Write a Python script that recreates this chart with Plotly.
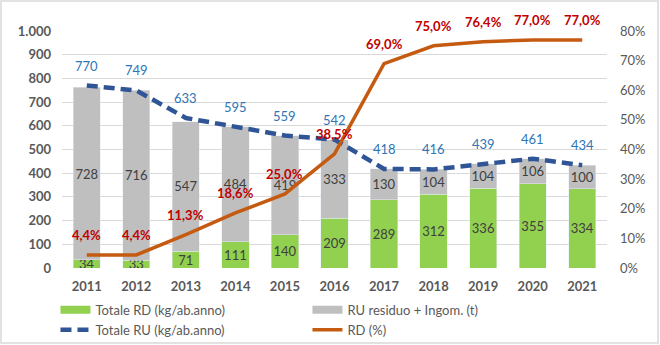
import plotly.graph_objects as go

years = ["2011", "2012", "2013", "2014", "2015", "2016", "2017", "2018", "2019", "2020", "2021"]
totale_rd = [34, 33, 71, 111, 140, 209, 289, 312, 336, 355, 334]
ru_residuo = [728, 716, 547, 484, 419, 333, 130, 104, 104, 106, 100]
totale_ru = [770, 749, 633, 595, 559, 542, 418, 416, 439, 461, 434]
rd_pct = [4.4, 4.4, 11.3, 18.6, 25.0, 38.5, 69.0, 75.0, 76.4, 77.0, 77.0]

names = ["Totale RD (kg/ab.anno)", "RU residuo + Ingom. (t)", "Totale RU (kg/ab.anno)", "RD (%)"]

FONT = "Lato, Carlito, 'Liberation Sans', sans-serif"
GREEN = "#92D050"
GRAY = "#BFBFBF"
BLUE = "#2F5597"
ORANGE = "#C55A11"
LBL_BLUE = "#2E75B6"
LBL_RED = "#C00000"
TXT = "#404040"
AX = "#595959"

fig = go.Figure()

fig.add_trace(go.Bar(
    x=years, y=totale_rd, name=names[0], marker_color=GREEN, showlegend=False,
    text=[str(v) for v in totale_rd], textposition="inside", insidetextanchor="middle",
    constraintext="none", textangle=0,
    insidetextfont=dict(family=FONT, size=13, color=TXT),
))
fig.add_trace(go.Bar(
    x=years, y=ru_residuo, name=names[1], marker_color=GRAY, showlegend=False,
    text=[str(v) for v in ru_residuo], textposition="inside", insidetextanchor="middle",
    constraintext="none", textangle=0,
    insidetextfont=dict(family=FONT, size=13, color=TXT),
))
fig.add_trace(go.Scatter(
    x=years, y=totale_ru, name=names[2], mode="lines",
    line=dict(color=BLUE, width=4.5, dash="11px,6px"), legendrank=3, cliponaxis=False,
))
fig.add_trace(go.Scatter(
    x=years, y=rd_pct, name=names[3], mode="lines", yaxis="y2",
    line=dict(color=ORANGE, width=3.5), legendrank=4, cliponaxis=False,
))
# legend proxies for the bar series (wide rectangle swatches)
fig.add_trace(go.Scatter(x=years[:1], y=[None], mode="lines", name=names[0],
                         line=dict(color=GREEN, width=8), legendrank=1))
fig.add_trace(go.Scatter(x=years[:1], y=[None], mode="lines", name=names[1],
                         line=dict(color=GRAY, width=8), legendrank=2))

annotations = []
for i, v in enumerate(totale_ru):
    annotations.append(dict(x=i, y=v, xref="x", yref="y", text=str(v), showarrow=False,
                            yshift=20, font=dict(family=FONT, size=13, color=LBL_BLUE)))
for i, v in enumerate(rd_pct):
    annotations.append(dict(x=i, y=v, xref="x", yref="y2",
                            text="<b>" + f"{v:.1f}".replace(".", ",") + "%</b>", showarrow=False,
                            yshift=20, font=dict(family=FONT, size=13, color=LBL_RED)))

L, R, T, B = 62, 53, 31, 77
W, H = 660, 345
pw, ph = W - L - R, H - T - B

fig.update_layout(
    width=W, height=H,
    margin=dict(l=L, r=R, t=T, b=B, autoexpand=False),
    paper_bgcolor="white", plot_bgcolor="white",
    barmode="stack", bargap=0.45,
    separators=",.",
    font=dict(family=FONT, size=13, color=AX),
    xaxis=dict(type="category", categoryorder="array", categoryarray=years,
               range=[-0.5, len(years) - 0.5], showgrid=False, ticks="", showline=False,
               tickfont=dict(family=FONT, size=13, color=AX, weight="bold"),
               ticklabelstandoff=9),
    yaxis=dict(range=[0, 1000], dtick=100, showgrid=True, gridcolor="#D9D9D9", gridwidth=1,
               zeroline=False, showline=False, ticks="", separatethousands=True,
               tickformat=",d",
               tickfont=dict(family=FONT, size=13, color=AX, weight="bold"),
               ticklabelstandoff=10),
    yaxis2=dict(range=[0, 80], dtick=10, overlaying="y", side="right", showgrid=False,
                zeroline=False, showline=False, ticks="", ticksuffix="%",
                tickfont=dict(family=FONT, size=13, color=AX),
                ticklabelstandoff=12),
    legend=dict(orientation="h", x=-0.012, xanchor="left", y=-0.113, yanchor="top",
                entrywidth=207, font=dict(family=FONT, size=13, color=AX),
                traceorder="normal", bgcolor="rgba(0,0,0,0)"),
    annotations=annotations,
    shapes=[dict(type="rect", xref="paper", yref="paper",
                 x0=(1 - L) / pw, x1=(W - 2 - L) / pw,
                 y0=-(H - 2 - T - ph) / ph, y1=1 + (T - 1) / ph,
                 line=dict(color="#D9D9D9", width=1.5), fillcolor="rgba(0,0,0,0)", layer="below")],
)

fig.write_html("out.html")
